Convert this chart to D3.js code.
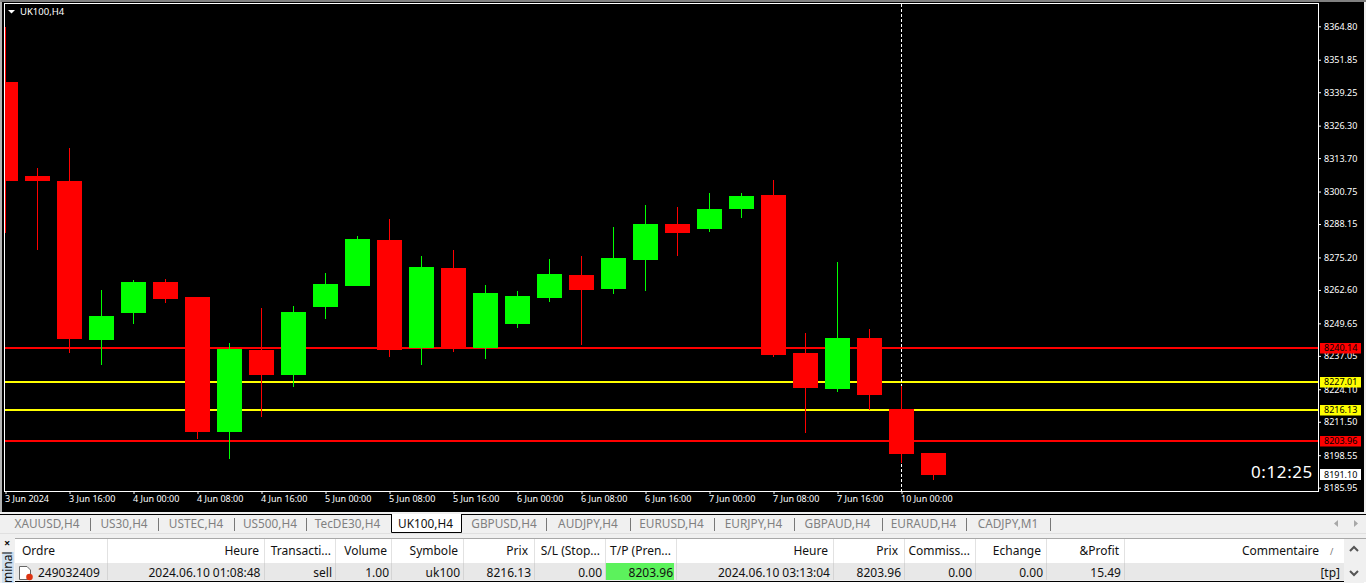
<!DOCTYPE html>
<html>
<head>
<meta charset="utf-8">
<script src="https://cdn.jsdelivr.net/npm/d3@7"></script>
<style>
html,body{margin:0;padding:0;background:#f0f0f0;overflow:hidden}
svg{display:block}
text{font-family:"Noto Sans",sans-serif}
</style>
</head>
<body>
<div id="chart"></div>
<script>
const times = ["3 Jun 08:00","3 Jun 12:00","3 Jun 16:00","3 Jun 20:00","4 Jun 00:00","4 Jun 04:00","4 Jun 08:00","4 Jun 12:00","4 Jun 16:00","4 Jun 20:00","5 Jun 00:00","5 Jun 04:00","5 Jun 08:00","5 Jun 12:00","5 Jun 16:00","5 Jun 20:00","6 Jun 00:00","6 Jun 04:00","6 Jun 08:00","6 Jun 12:00","6 Jun 16:00","6 Jun 20:00","7 Jun 00:00","7 Jun 04:00","7 Jun 08:00","7 Jun 12:00","7 Jun 16:00","7 Jun 20:00","10 Jun 00:00","10 Jun 04:00"];
const opens  = [8343.21,8306.77,8304.83,8243.20,8253.66,8265.68,8259.86,8207.53,8239.32,8229.63,8255.99,8264.13,8281.96,8240.09,8271.11,8240.09,8249.40,8259.48,8268.39,8262.97,8274.21,8288.16,8286.23,8293.98,8299.41,8238.16,8224.20,8243.97,8216.45,8199.39];
const closes = [8304.83,8304.83,8243.58,8252.50,8265.68,8259.09,8207.53,8239.71,8229.63,8254.05,8264.90,8282.35,8239.32,8271.49,8240.09,8261.42,8260.25,8268.78,8262.58,8274.98,8288.16,8284.68,8293.98,8299.02,8237.38,8224.59,8243.97,8221.87,8199.00,8190.86];
const highs  = [8364.53,8309.87,8317.63,8262.58,8266.46,8266.84,8259.86,8242.03,8255.60,8256.38,8269.17,8283.51,8290.10,8275.76,8278.08,8264.52,8262.19,8274.60,8275.76,8287.00,8295.53,8294.75,8300.18,8300.18,8305.22,8245.91,8273.43,8247.46,8225.36,8199.39];
const lows   = [8284.68,8278.08,8238.16,8233.50,8249.40,8257.54,8204.82,8197.06,8213.35,8224.98,8251.34,8264.13,8236.61,8233.50,8238.54,8235.83,8247.85,8257.93,8241.26,8261.03,8262.19,8275.76,8285.06,8290.49,8236.61,8207.14,8223.04,8216.06,8195.51,8188.92];
const priceTicks = ["8364.80","8351.85","8339.25","8326.30","8313.70","8300.75","8288.15","8275.20","8262.60","8249.65","8237.05","8224.10","8211.50","8198.55","8185.95"];
const timeTicks = ["3 Jun 08:00","3 Jun 16:00","4 Jun 00:00","4 Jun 08:00","4 Jun 16:00","5 Jun 00:00","5 Jun 08:00","5 Jun 16:00","6 Jun 00:00","6 Jun 08:00","6 Jun 16:00","7 Jun 00:00","7 Jun 08:00","7 Jun 16:00","10 Jun 00:00"];
const firstTickLabel = "3 Jun 2024";
const levelValues = [8240.14,8227.01,8216.13,8203.96];
const levelKinds = ["stop","entry","entry","stop"];
const bidValue = 8191.10;
const crosshairTime = "10 Jun 00:00";
const chartTitle = "UK100,H4";
const countdown = "0:12:25";
const tabLabels = ["XAUUSD,H4","US30,H4","USTEC,H4","US500,H4","TecDE30,H4","UK100,H4","GBPUSD,H4","AUDJPY,H4","EURUSD,H4","EURJPY,H4","GBPAUD,H4","EURAUD,H4","CADJPY,M1"];
const activeTab = "UK100,H4";
const tableHeaders = ["Ordre","Heure","Transacti...","Volume","Symbole","Prix","S/L (Stop...","T/P (Pren...","Heure","Prix","Commiss...","Echange","&Profit","Commentaire"];
const tableRow = ["249032409","2024.06.10 01:08:48","sell","1.00","uk100","8216.13","0.00","8203.96","2024.06.10 03:13:04","8203.96","0.00","0.00","15.49","[tp]"];

const W=1366,H=583;
const svg=d3.select("#chart").append("svg").attr("width",W).attr("height",H);
const RED="#ff0000",GREEN="#00ff00",YELLOW="#ffff00";
const levelColor={stop:RED,entry:YELLOW};

const x=d3.scalePoint().domain(times).range([5.5,933.5]);
const y=d3.scaleLinear().domain([8375,8149]).range([0,H]);

// window chrome
svg.append("rect").attr("width",W).attr("height",H).attr("fill","#f0f0f0");
svg.append("rect").attr("width",W).attr("height",2).attr("fill","#808080");
svg.append("rect").attr("x",0).attr("y",0).attr("width",1).attr("height",512).attr("fill","#8c8c8c");
svg.append("rect").attr("x",2).attr("y",2).attr("width",1362).attr("height",510).attr("fill","#000");
svg.append("rect").attr("x",0).attr("y",2).attr("width",2).attr("height",510).attr("fill","#b4b4b4");

// clip for marks
svg.append("clipPath").attr("id","plot").append("rect").attr("x",5).attr("y",4).attr("width",1313).attr("height",487);
const plot=svg.append("g").attr("clip-path","url(#plot)");

// level lines behind candles
plot.selectAll(".lvl").data(levelValues).join("rect")
  .attr("x",5).attr("width",1313).attr("height",2)
  .attr("y",d=>Math.round(y(d))-1)
  .attr("fill",(d,i)=>levelColor[levelKinds[i]]);

// crosshair
plot.append("line").attr("x1",x(crosshairTime)).attr("x2",x(crosshairTime)).attr("y1",4).attr("y2",491)
  .attr("stroke","#fff").attr("stroke-dasharray","3,2");

// candles
const idx=d3.range(times.length);
const col=i=>closes[i]>opens[i]?GREEN:RED;
plot.selectAll(".wick").data(idx).join("rect")
  .attr("x",i=>x(times[i])-0.5).attr("width",1)
  .attr("y",i=>Math.round(y(highs[i])))
  .attr("height",i=>Math.round(y(lows[i]))-Math.round(y(highs[i])))
  .attr("fill",col);
plot.selectAll(".body").data(idx).join("rect")
  .attr("x",i=>x(times[i])-12.5).attr("width",25)
  .attr("y",i=>Math.round(y(Math.max(opens[i],closes[i]))))
  .attr("height",i=>Math.max(1,Math.round(y(Math.min(opens[i],closes[i])))-Math.round(y(Math.max(opens[i],closes[i])))))
  .attr("fill",col);

// frame
svg.append("rect").attr("x",4.5).attr("y",3.5).attr("width",1314).attr("height",488)
  .attr("fill","none").attr("stroke","#fff");

// axes
const yAxis=d3.axisRight(y).tickValues(priceTicks.map(Number)).tickFormat(d3.format(".2f")).tickSize(3).tickPadding(2).tickSizeOuter(0);
const gy=svg.append("g").attr("transform","translate(1318,0)").call(yAxis);
const xAxis=d3.axisBottom(x).tickValues(timeTicks).tickFormat((d,i)=>i===0?firstTickLabel:d).tickSize(3).tickPadding(2).tickSizeOuter(0);
const gx=svg.append("g").attr("transform","translate(0,491)").call(xAxis);
[gy,gx].forEach(g=>{
  g.select(".domain").remove();
  g.selectAll("line").attr("stroke","#fff");
  g.selectAll("text").attr("fill","#fff").attr("font-family","'Noto Sans',sans-serif").attr("font-size",9);
});
gx.selectAll("text").attr("text-anchor","start").attr("dx",-1).attr("y",5).attr("dy","0.71em");
gy.selectAll("text").attr("x",6);

// level tags
const tags=svg.append("g");
levelValues.forEach((v,i)=>{
  const cy=Math.round(y(v));
  tags.append("rect").attr("x",1320).attr("y",cy-5).attr("width",41).attr("height",10.5).attr("fill",levelColor[levelKinds[i]]);
  tags.append("text").attr("x",1324).attr("y",cy+3.2).attr("font-size",9).attr("fill","#000").text(v.toFixed(2));
});
{
  const cy=Math.round(y(bidValue));
  tags.append("rect").attr("x",1320).attr("y",cy-5).attr("width",41).attr("height",11).attr("fill","#fff");
  tags.append("text").attr("x",1324).attr("y",cy+3.7).attr("font-size",9).attr("fill","#000").text(bidValue.toFixed(2));
}

// title + countdown
svg.append("path").attr("d","M8,10L15,10L11.5,13.5Z").attr("fill","#fff");
svg.append("text").attr("x",20).attr("y",14.5).attr("font-size",9.5).attr("fill","#fff").text(chartTitle);
svg.append("text").attr("x",1251).attr("y",478).attr("font-size",17).attr("letter-spacing",0.6)
  .attr("fill","#fff").text(countdown);

// tabs
const tabs=svg.append("g");
tabs.append("rect").attr("x",0).attr("y",514).attr("width",W).attr("height",1).attr("fill","#000");
tabs.append("rect").attr("x",0).attr("y",515).attr("width",W).attr("height",18).attr("fill","#f0f0f0");
tabs.append("rect").attr("x",0).attr("y",533).attr("width",W).attr("height",1).attr("fill","#e0e0e0");
const tabCenter=[47,124,196,270,347.5,425.5,504,588,671.5,753.5,837.5,923.5,1008];
const tabSeps=[90,158,234,306,546,630,714,794,882,966,1050];
tabs.append("rect").attr("x",391).attr("y",514).attr("width",71).attr("height",19).attr("fill","#fff");
tabs.append("path").attr("d","M391.5,514V532.5H461.5V514").attr("fill","none").attr("stroke","#000");
tabSeps.forEach(s=>tabs.append("rect").attr("x",s).attr("y",518).attr("width",1).attr("height",13).attr("fill","#777"));
tabLabels.forEach((t,i)=>{
  tabs.append("text").attr("x",tabCenter[i]).attr("y",528).attr("text-anchor","middle").attr("font-size",11.8)
    .attr("fill",t===activeTab?"#111":"#808080").text(t);
});
tabs.append("path").attr("d","M1338,520L1334,523.5L1338,527Z").attr("fill","#a8a8a8");
tabs.append("path").attr("d","M1354,520L1358,523.5L1354,527Z").attr("fill","#a8a8a8");

// table
const tbl=svg.append("g");
tbl.append("rect").attr("x",15).attr("y",538).attr("width",1329).attr("height",25).attr("fill","#fff");
tbl.append("rect").attr("x",15).attr("y",563).attr("width",1329).attr("height",17).attr("fill","#e8e8e8");
tbl.append("rect").attr("x",15).attr("y",538).attr("width",1351).attr("height",1).attr("fill","#a8a8a8");
tbl.append("rect").attr("x",15).attr("y",581).attr("width",1329).attr("height",1).attr("fill","#000");
tbl.append("rect").attr("x",15).attr("y",582).attr("width",1351).attr("height",1).attr("fill","#fff");
const colSeps=[107,264,335,391,463,534,605,676,833,904,975,1046,1124];
colSeps.forEach(s=>{
  tbl.append("rect").attr("x",s).attr("y",539).attr("width",1).attr("height",24).attr("fill","#e2e2e2");
  tbl.append("rect").attr("x",s).attr("y",563).attr("width",1).attr("height",17).attr("fill","#d4d4d4");
});
tbl.append("rect").attr("x",606).attr("y",563).attr("width",68).attr("height",17).attr("fill","#5cf25c");
const headRight=[null,259,331,387,458,528,600,671,828,898,970,1041,1119,1319];
const rowRight=[null,260.5,332,389,460,531,602,673,830,901,972,1043,1121,1340];
tableHeaders.forEach((t,i)=>{
  const e=tbl.append("text").attr("y",555).attr("font-size",12).attr("fill","#111").text(t);
  if(i===0) e.attr("x",22); else e.attr("x",headRight[i]).attr("text-anchor","end");
});
tableRow.forEach((t,i)=>{
  const e=tbl.append("text").attr("y",577).attr("font-size",12).attr("fill","#111").text(t);
  if(i===0) e.attr("x",38); else e.attr("x",rowRight[i]).attr("text-anchor","end");
});
tbl.append("text").attr("x",1330).attr("y",555).attr("font-size",9).attr("fill","#777").text("/");

// scrollbar
tbl.append("rect").attr("x",1344).attr("y",539).attr("width",20).attr("height",44).attr("fill","#f0f0f0");
tbl.append("path").attr("d","M1350,551L1354,547L1358,551").attr("fill","none").attr("stroke","#555").attr("stroke-width",2);
tbl.append("path").attr("d","M1350,571L1354,575L1358,571").attr("fill","none").attr("stroke","#555").attr("stroke-width",2);

// terminal side tab
svg.append("rect").attr("x",2).attr("y",552).attr("width",12).attr("height",31).attr("fill","#cfe0f0");
svg.append("text").attr("transform","translate(12,583) rotate(-90)").attr("font-size",12).attr("fill","#111").text("minal");
svg.append("text").attr("x",4).attr("y",547).attr("font-size",11).attr("font-weight",700).attr("fill","#111").text("×");

// order icon
svg.append("path").attr("d","M19.5,566.5H27L30.5,570V579.5H19.5Z").attr("fill","#fff").attr("stroke","#666");
svg.append("circle").attr("cx",29.5).attr("cy",577).attr("r",3.3).attr("fill","#dd3311");
</script>
</body>
</html>
